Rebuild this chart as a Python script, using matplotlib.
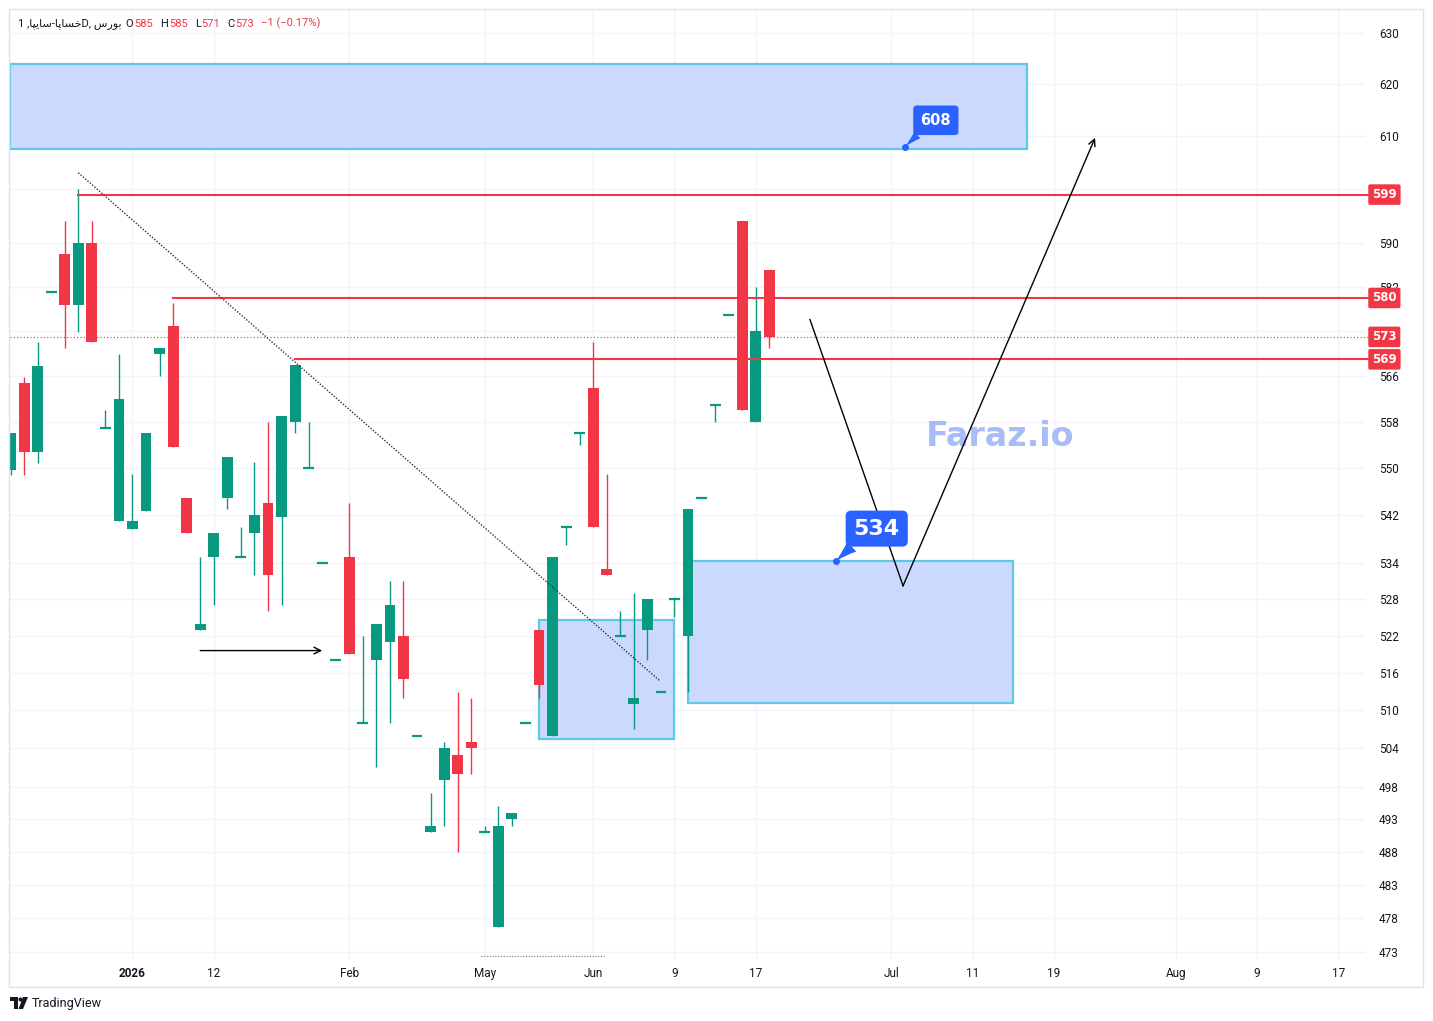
import numpy as np
import matplotlib
matplotlib.use('Agg')
import matplotlib.pyplot as plt
import matplotlib.transforms as mtransforms
from matplotlib.patches import Rectangle, Polygon, Circle
from matplotlib.ticker import NullLocator

plt.rcParams['font.family'] = ['Roboto', 'DejaVu Sans']

# ---- daily candles (price) ----
opens  = [549.7, 564.9, 552.8, 581, 588, 578.7, 590, 557, 541, 539.7,
          542.7, 570, 575, 545, 523, 535, 545, 535, 539, 544,
          541.7, 558, 550, 534, 518, 535, 508, 518, 521, 522,
          506, 491, 499, 503, 505, 491, 476.7, 493, 508, 523,
          506, 540, 556, 564, 533, 522, 511, 523, 513, 528,
          522, 545, 561, 577, 594, 558, 585]
highs  = [556.1, 565.9, 572.0, 581, 594, 600, 594, 560, 570, 549,
          556, 571, 579, 545, 535, 539, 552, 540, 551, 558,
          559, 568, 558, 534, 518, 544, 522, 524, 531, 531,
          506, 497, 505, 513, 512, 492, 495, 494, 508, 523,
          535, 540, 556, 572, 549, 526, 529, 528, 513, 528,
          543, 545, 561, 577, 594, 582, 585]
lows   = [548.9, 548.9, 550.9, 581, 571, 573.9, 572, 557, 541, 539.7,
          542.7, 566, 553.7, 539, 523, 527, 543, 535, 532, 526,
          527, 556, 550, 534, 518, 519, 508, 501, 508, 512,
          506, 491, 492, 488, 500, 491, 476.7, 492, 508, 512,
          506, 537, 554, 540, 532, 522, 507, 518, 513, 525,
          513, 545, 558, 577, 560, 558, 571]
closes = [556.1, 552.8, 567.9, 581, 578.7, 590, 572, 557, 562, 541,
          556, 571, 553.7, 539, 524, 539, 552, 535, 542, 532,
          559, 568, 550, 534, 518, 519, 508, 524, 527, 515,
          506, 492, 504, 500, 504, 491, 492, 494, 508, 514,
          535, 540, 556, 540, 532, 522, 512, 528, 513, 528,
          543, 545, 561, 577, 560, 574, 573]

x_tick_pos = [9, 15, 25, 35, 43, 49, 55, 65, 71, 77, 86, 92, 98]
x_tick_lbl = ['2026', '12', 'Feb', 'May', 'Jun', '9', '17', 'Jul', '11', '19', 'Aug', '9', '17']
y_ticks = [630, 620, 610, 600, 590, 582, 574, 566, 558, 550, 542, 534, 528,
           522, 516, 510, 504, 498, 493, 488, 483, 478, 473]

levels = [599, 580, 569]          # horizontal resistance lines
level_start = [5, 12, 21]
last_price = 573

zones = [(-0.04, 75, 607.6, 623.9), (39, 49, 505.4, 524.6), (50, 74, 511.1, 534.3)]

GREEN = '#089981'
RED = '#f23645'
BLUE = '#2962ff'
TXT = '#131722'

W, H = 1433, 1021
fig = plt.figure(figsize=(W / 100, H / 100), dpi=100)
px = mtransforms.Affine2D().scale(1 / W, -1 / H).translate(0, 1) + fig.transFigure

ax = fig.add_axes([10 / W, 1 - 960 / H, 1355 / W, 950 / H])
ax.set_yscale('log')
ax.set_ylim(471.8, 634.5)
ax.set_xlim(-0.04, 99.96)
for s in ax.spines.values():
    s.set_visible(False)

ax.set_yticks(y_ticks, [str(v) for v in y_ticks])
ax.yaxis.set_minor_locator(NullLocator())
ax.yaxis.tick_right()
ax.tick_params(axis='y', length=0, pad=10, labelsize=8.5, labelcolor=TXT)
ax.set_xticks(x_tick_pos, x_tick_lbl)
ax.tick_params(axis='x', length=0, pad=5, labelsize=8.5, labelcolor=TXT)
ax.get_xticklabels()[0].set_fontweight('bold')
ax.grid(True, color='#f0f3fa', lw=1)
ax.set_axisbelow(True)

# ---- zones ----
for x0, x1, lo, hi in zones:
    ax.add_patch(Rectangle((x0, lo), x1 - x0, hi - lo, fc='#ccd9ff', ec='#5ec8e5',
                           lw=1.6, zorder=1.5))

# watermark
ax.text(73, 555.4, 'Faraz.io', fontsize=24, fontweight='bold', color='#a8bdf7',
        ha='center', va='center', family='DejaVu Sans', zorder=1.6)

# ---- candles ----
for i, (o, h, l, c) in enumerate(zip(opens, highs, lows, closes)):
    col = GREEN if c >= o else RED
    ax.vlines(i, l, h, color=col, lw=1, zorder=3)
    if abs(c - o) < 0.3:
        ax.hlines(o, i - 0.4, i + 0.4, color=col, lw=1.6, zorder=3)
    else:
        ax.bar(i, abs(c - o), bottom=min(o, c), width=0.8, color=col, lw=0, zorder=3)

# ---- lines ----
for lv, st in zip(levels, level_start):
    ax.plot([st, 100.4], [lv, lv], color=RED, lw=1.5, clip_on=False, zorder=4)
ax.plot([-0.04, 100.4], [last_price, last_price], color=RED, lw=0.8,
        ls=(0, (1, 2)), clip_on=False, zorder=4)

# dotted trend line
ax.plot([5, 47.93], [603.1, 514.7], color='#333333', lw=1, ls=(0, (1, 1.2)), zorder=4)
# small dotted segment at the bottom
ax.plot([34.7, 43.9], [472.4, 472.4], color='#777777', lw=0.8, ls=(0, (1, 1.5)), zorder=4)

# horizontal arrow
ax.annotate('', xy=(23, 519.6), xytext=(14, 519.6),
            arrowprops=dict(arrowstyle='->', color='black', lw=1, shrinkA=0, shrinkB=0,
                            mutation_scale=12), zorder=4)
# projected path
ax.plot([59, 65.87], [576.1, 530.2], color='black', lw=1, zorder=4)
ax.annotate('', xy=(80.04, 609.7), xytext=(65.87, 530.2),
            arrowprops=dict(arrowstyle='->', color='black', lw=1, shrinkA=0, shrinkB=0,
                            mutation_scale=12), zorder=4)

# ---- callouts ----
for (cx, cy, txt, fs, dx, dy, pad) in [(66, 608, '608', 10.5, 31, 26.5, 0.5),
                                       (60.9, 534.3, '534', 16, 41, 32.5, 0.36)]:
    ax.plot(cx, cy, 'o', ms=4, color=BLUE, zorder=5)
    ax.annotate(txt, xy=(cx, cy), xytext=(dx, dy), textcoords='offset pixels',
                ha='center', va='center', fontsize=fs, fontweight='bold', color='white',
                family='DejaVu Sans',
                bbox=dict(boxstyle='round,pad=%s,rounding_size=0.25' % pad, fc=BLUE, ec='none'),
                arrowprops=dict(arrowstyle='wedge,tail_width=0.6,shrink_factor=0.4',
                                fc=BLUE, ec='none', relpos=(0.2, 0.1), shrinkA=0, shrinkB=0),
                zorder=5)

# ---- price labels ----
btr = mtransforms.blended_transform_factory(ax.transAxes, ax.transData)
for lv in levels + [last_price]:
    ax.text(1.0052, lv, str(lv), transform=btr, ha='left', va='center', fontsize=8.5,
            fontweight='bold', color='white', family='DejaVu Sans', zorder=6,
            bbox=dict(boxstyle='round,pad=0.32,rounding_size=0.15', fc=RED, ec='none'))

# ---- frame ----
fig.add_artist(Rectangle((9, 9), 1414, 978, transform=px, fill=False, ec='#e0e3eb', lw=1))

# ---- legend header ----
saipa = '\uFE8E\uFB59\uFBFE\uFE8E\uFEB3'
khsapa = '\uFE8E\uFB58\uFE8E\uFEB4\uFEA7'
bours = '\uFEB1\uFEAD\uFEEE\uFE91'
parts = [('1 ,' + saipa + '-' + khsapa + 'D, ' + bours, TXT, 0),
         ('O', TXT, 4), ('585', RED, 1), ('H', TXT, 7), ('585', RED, 1),
         ('L', TXT, 7), ('571', RED, 1), ('C', TXT, 7), ('573', RED, 1),
         ('\u22121 (\u22120.17%)', RED, 7)]
last = None
for t, col, gap in parts:
    if last is None:
        last = fig.text(18 / W, 1 - 24 / H, t, color=col, fontsize=8, va='center', ha='left')
    else:
        last = ax.annotate(t, xy=(1, 0), xycoords=last, xytext=(gap, 0),
                           textcoords='offset pixels', va='bottom', ha='left',
                           color=col, fontsize=8, annotation_clip=False)

# ---- TradingView logo ----
fig.add_artist(Polygon([(10, 997), (18, 997), (18, 1009), (14, 1009), (14, 1001), (10, 1001)],
                       closed=True, transform=px, fc=TXT, ec='none'))
fig.add_artist(Circle((20.5, 999.5), 2, transform=px, fc=TXT, ec='none'))
fig.add_artist(Polygon([(23, 997), (28, 997), (23, 1009), (18.5, 1009)],
                       closed=True, transform=px, fc=TXT, ec='none'))
fig.text(32 / W, 1 - 1003 / H, 'TradingView', fontsize=9, color=TXT, va='center', ha='left')

fig.savefig('out.png', dpi=100, facecolor='white')
